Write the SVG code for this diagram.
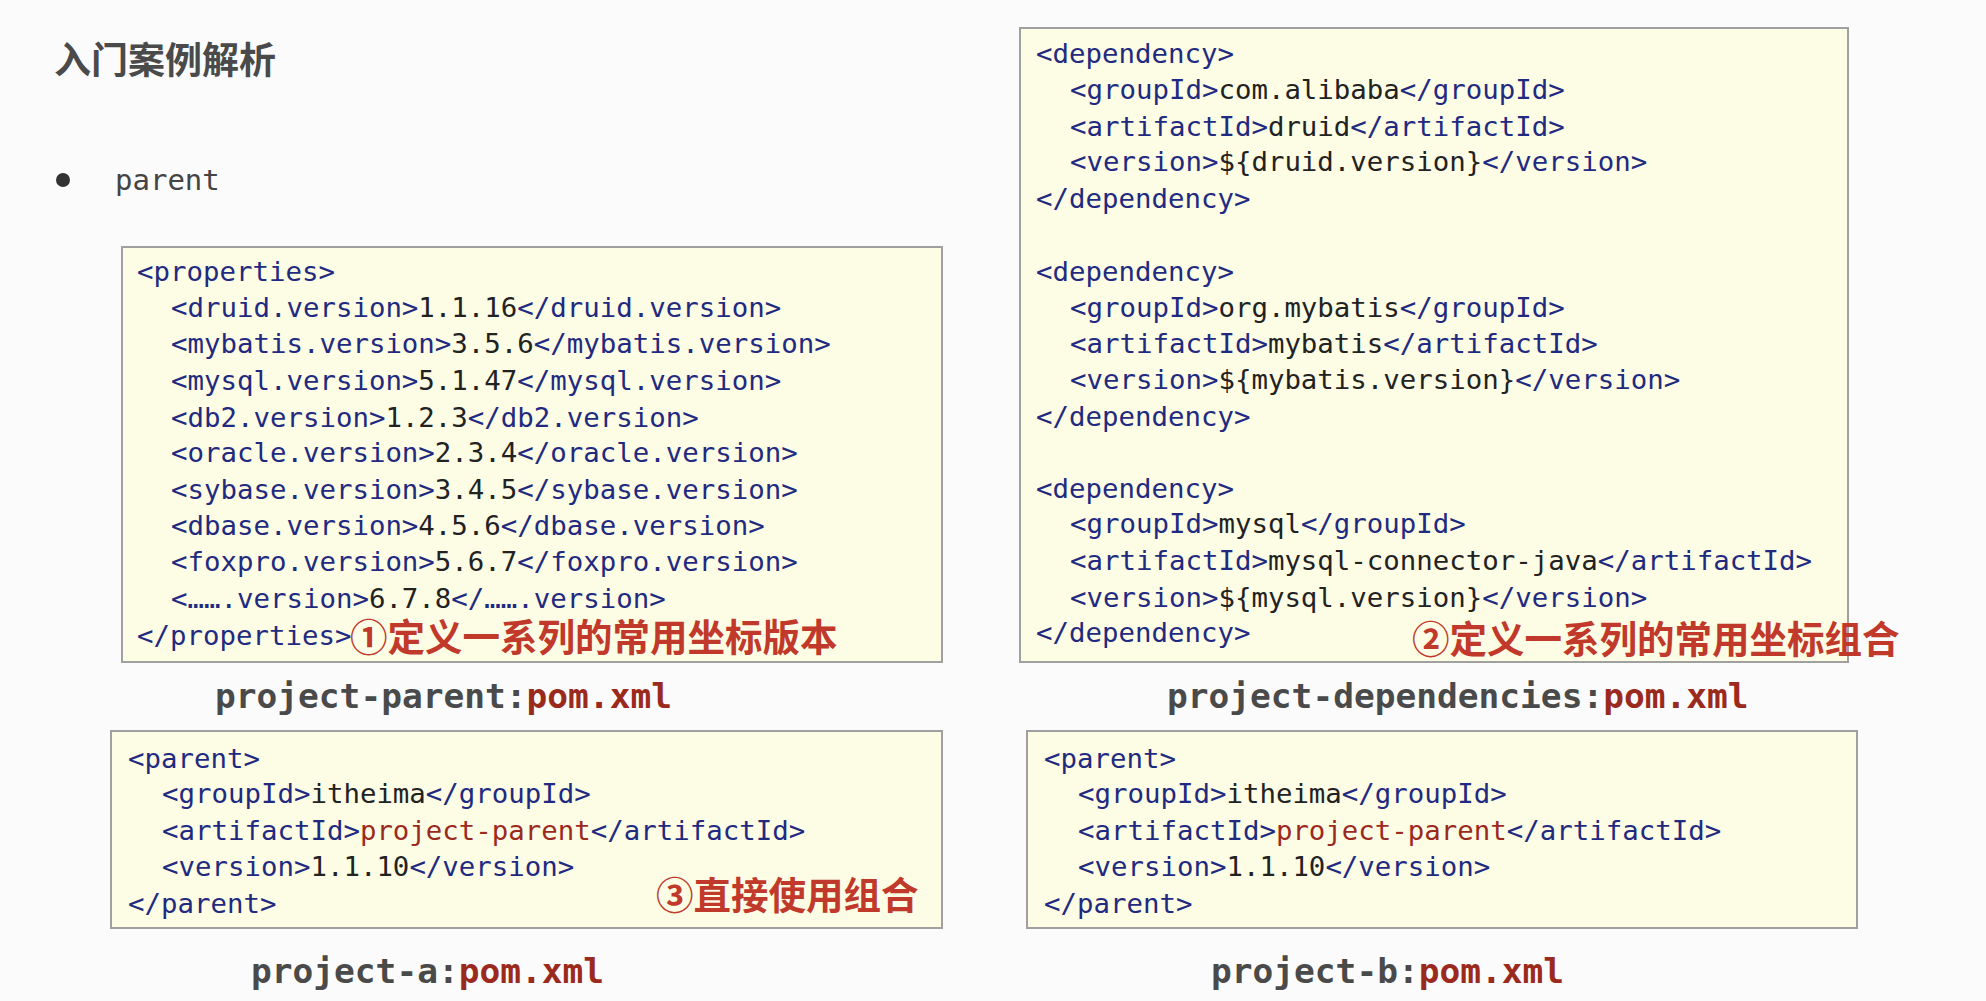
<svg xmlns="http://www.w3.org/2000/svg" width="1986" height="1001" viewBox="0 0 1986 1001">
<style>
.c{font-family:"DejaVu Sans Mono","Liberation Mono",monospace;font-size:27.4px;fill:#222}
.t{fill:#1f2a80}
.r{fill:#9b2a1e}
.box{fill:#fdfce4;stroke:#a0a0a0;stroke-width:2}
.lbl{font-family:"DejaVu Sans Mono","Liberation Mono",monospace;font-size:34.5px;font-weight:bold;fill:#4a4a4a}
.ann{font-family:"Noto Sans CJK SC",sans-serif;font-size:37.5px;font-weight:bold;fill:#c0392b}
</style>
<rect width="1986" height="1001" fill="#fbfbfb"/>
<text x="54" y="74" font-family="Noto Sans CJK SC,sans-serif" font-size="37" font-weight="bold" fill="#4a4a4a">入门案例解析</text>
<circle cx="63" cy="180" r="7" fill="#333"/>
<text x="115" y="190" font-family="DejaVu Sans Mono,monospace" font-size="29" fill="#444">parent</text>

<g id="properties">
<rect class="box" x="122" y="247" width="820" height="415"/>
<text class="c" x="137" y="281"><tspan class="t">&lt;properties&gt;</tspan></text>
<text class="c" x="171" y="317"><tspan class="t">&lt;druid.version&gt;</tspan>1.1.16<tspan class="t">&lt;/druid.version&gt;</tspan></text>
<text class="c" x="171" y="353"><tspan class="t">&lt;mybatis.version&gt;</tspan>3.5.6<tspan class="t">&lt;/mybatis.version&gt;</tspan></text>
<text class="c" x="171" y="390"><tspan class="t">&lt;mysql.version&gt;</tspan>5.1.47<tspan class="t">&lt;/mysql.version&gt;</tspan></text>
<text class="c" x="171" y="427"><tspan class="t">&lt;db2.version&gt;</tspan>1.2.3<tspan class="t">&lt;/db2.version&gt;</tspan></text>
<text class="c" x="171" y="462"><tspan class="t">&lt;oracle.version&gt;</tspan>2.3.4<tspan class="t">&lt;/oracle.version&gt;</tspan></text>
<text class="c" x="171" y="499"><tspan class="t">&lt;sybase.version&gt;</tspan>3.4.5<tspan class="t">&lt;/sybase.version&gt;</tspan></text>
<text class="c" x="171" y="535"><tspan class="t">&lt;dbase.version&gt;</tspan>4.5.6<tspan class="t">&lt;/dbase.version&gt;</tspan></text>
<text class="c" x="171" y="571"><tspan class="t">&lt;foxpro.version&gt;</tspan>5.6.7<tspan class="t">&lt;/foxpro.version&gt;</tspan></text>
<text class="c" x="171" y="608"><tspan class="t">&lt;…….version&gt;</tspan>6.7.8<tspan class="t">&lt;/…….version&gt;</tspan></text>
<text class="c" x="137" y="645"><tspan class="t">&lt;/properties&gt;</tspan></text>
<text class="ann" x="350" y="651">①定义一系列的常用坐标版本</text>
<text class="lbl" x="215" y="708">project-parent:<tspan class="r">pom.xml</tspan></text>
</g>

<g id="dependencies">
<rect class="box" x="1020" y="28" width="828" height="634"/>
<text class="c" x="1036" y="63"><tspan class="t">&lt;dependency&gt;</tspan></text>
<text class="c" x="1070" y="99"><tspan class="t">&lt;groupId&gt;</tspan>com.alibaba<tspan class="t">&lt;/groupId&gt;</tspan></text>
<text class="c" x="1070" y="136"><tspan class="t">&lt;artifactId&gt;</tspan>druid<tspan class="t">&lt;/artifactId&gt;</tspan></text>
<text class="c" x="1070" y="171"><tspan class="t">&lt;version&gt;</tspan>${druid.version}<tspan class="t">&lt;/version&gt;</tspan></text>
<text class="c" x="1036" y="208"><tspan class="t">&lt;/dependency&gt;</tspan></text>
<text class="c" x="1036" y="281"><tspan class="t">&lt;dependency&gt;</tspan></text>
<text class="c" x="1070" y="317"><tspan class="t">&lt;groupId&gt;</tspan>org.mybatis<tspan class="t">&lt;/groupId&gt;</tspan></text>
<text class="c" x="1070" y="353"><tspan class="t">&lt;artifactId&gt;</tspan>mybatis<tspan class="t">&lt;/artifactId&gt;</tspan></text>
<text class="c" x="1070" y="389"><tspan class="t">&lt;version&gt;</tspan>${mybatis.version}<tspan class="t">&lt;/version&gt;</tspan></text>
<text class="c" x="1036" y="426"><tspan class="t">&lt;/dependency&gt;</tspan></text>
<text class="c" x="1036" y="498"><tspan class="t">&lt;dependency&gt;</tspan></text>
<text class="c" x="1070" y="533"><tspan class="t">&lt;groupId&gt;</tspan>mysql<tspan class="t">&lt;/groupId&gt;</tspan></text>
<text class="c" x="1070" y="570"><tspan class="t">&lt;artifactId&gt;</tspan>mysql-connector-java<tspan class="t">&lt;/artifactId&gt;</tspan></text>
<text class="c" x="1070" y="607"><tspan class="t">&lt;version&gt;</tspan>${mysql.version}<tspan class="t">&lt;/version&gt;</tspan></text>
<text class="c" x="1036" y="642"><tspan class="t">&lt;/dependency&gt;</tspan></text>
<text class="ann" x="1412" y="653">②定义一系列的常用坐标组合</text>
<text class="lbl" x="1167" y="708">project-dependencies:<tspan class="r">pom.xml</tspan></text>
</g>

<g id="project-a">
<rect class="box" x="111" y="731" width="831" height="197"/>
<text class="c" x="128" y="768"><tspan class="t">&lt;parent&gt;</tspan></text>
<text class="c" x="162" y="803"><tspan class="t">&lt;groupId&gt;</tspan>itheima<tspan class="t">&lt;/groupId&gt;</tspan></text>
<text class="c" x="162" y="840"><tspan class="t">&lt;artifactId&gt;</tspan><tspan class="r">project-parent</tspan><tspan class="t">&lt;/artifactId&gt;</tspan></text>
<text class="c" x="162" y="876"><tspan class="t">&lt;version&gt;</tspan>1.1.10<tspan class="t">&lt;/version&gt;</tspan></text>
<text class="c" x="128" y="913"><tspan class="t">&lt;/parent&gt;</tspan></text>
<text class="ann" x="656" y="909">③直接使用组合</text>
<text class="lbl" x="251" y="983">project-a:<tspan class="r">pom.xml</tspan></text>
</g>

<g id="project-b">
<rect class="box" x="1027" y="731" width="830" height="197"/>
<text class="c" x="1044" y="768"><tspan class="t">&lt;parent&gt;</tspan></text>
<text class="c" x="1078" y="803"><tspan class="t">&lt;groupId&gt;</tspan>itheima<tspan class="t">&lt;/groupId&gt;</tspan></text>
<text class="c" x="1078" y="840"><tspan class="t">&lt;artifactId&gt;</tspan><tspan class="r">project-parent</tspan><tspan class="t">&lt;/artifactId&gt;</tspan></text>
<text class="c" x="1078" y="876"><tspan class="t">&lt;version&gt;</tspan>1.1.10<tspan class="t">&lt;/version&gt;</tspan></text>
<text class="c" x="1044" y="913"><tspan class="t">&lt;/parent&gt;</tspan></text>
<text class="lbl" x="1211" y="983">project-b:<tspan class="r">pom.xml</tspan></text>
</g>
<g id="connectors"/>
</svg>
